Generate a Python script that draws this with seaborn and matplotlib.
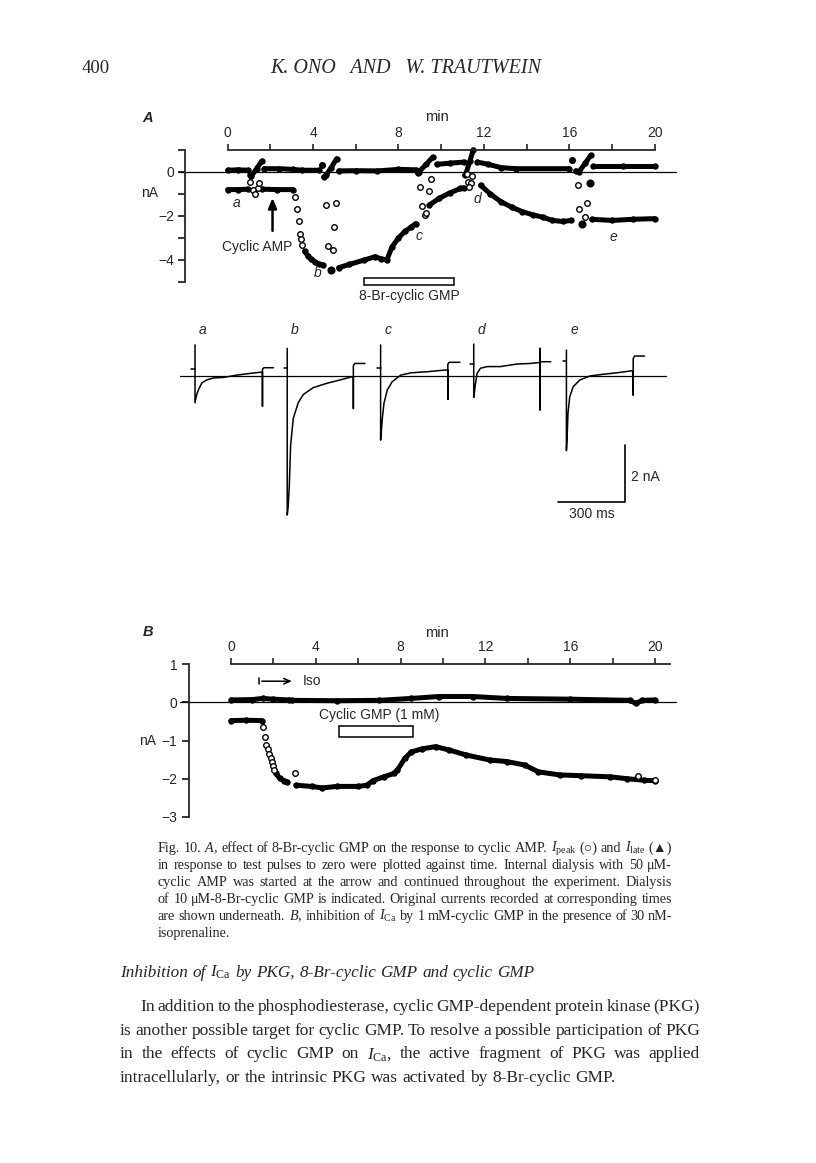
import numpy as np
import pandas as pd
import matplotlib
matplotlib.use("Agg")
import matplotlib.pyplot as plt
from matplotlib.patches import Rectangle
import seaborn as sns

# Panel A: I_late (filled runs), I_peak (filled runs + open circles), time in min, current in nA
a_late_runs = [
    ([0.0, 0.5, 0.95], [0.08, 0.1, 0.08]),
    ([1.05, 1.1, 1.35, 1.6], [-0.15, -0.2, 0.15, 0.5]),
    ([1.7, 2.4, 3.05, 3.5, 4.3], [0.15, 0.15, 0.12, 0.08, 0.08]),
    ([4.5, 4.6, 4.85, 5.1], [-0.22, -0.15, 0.2, 0.6]),
    ([5.2, 6.0, 7.0, 8.0, 8.8], [0.05, 0.06, 0.05, 0.12, 0.1]),
    ([8.9, 8.95, 9.3, 9.6], [-0.05, 0.0, 0.35, 0.67]),
    ([9.8, 10.4, 11.05], [0.35, 0.4, 0.45]),
    ([11.1, 11.15, 11.35, 11.5], [-0.15, -0.1, 0.5, 1.0]),
    ([11.7, 12.2, 12.8, 13.5, 16.0], [0.45, 0.35, 0.2, 0.15, 0.15]),
    ([16.3, 16.45, 16.75, 17.0], [0.05, 0.0, 0.4, 0.75]),
    ([17.1, 18.5, 20.0], [0.25, 0.25, 0.25]),
]
a_late_dots_t = [4.4, 16.15]
a_late_dots_i = [0.3, 0.55]

a_peak_runs = [
    ([0.0, 0.5, 0.95], [-0.8, -0.8, -0.78]),
    ([1.6, 2.3, 3.05], [-0.78, -0.8, -0.8]),
    ([3.6, 3.75, 3.9, 4.1, 4.3, 4.45], [-3.6, -3.8, -3.95, -4.1, -4.2, -4.22]),
    ([5.2, 5.7, 6.4, 6.9, 7.2, 7.45, 7.7, 8.0, 8.3, 8.6, 8.8],
     [-4.35, -4.2, -4.0, -3.85, -3.95, -4.0, -3.4, -3.0, -2.7, -2.5, -2.35]),
    ([9.45, 9.9, 10.4, 10.9, 11.05], [-1.5, -1.2, -0.95, -0.75, -0.72]),
    ([11.85, 12.3, 12.8, 13.3, 13.8, 14.3, 14.75, 15.2, 15.7, 16.1],
     [-0.6, -1.0, -1.35, -1.6, -1.8, -1.95, -2.05, -2.2, -2.25, -2.2]),
    ([17.05, 18.0, 19.0, 20.0], [-2.15, -2.2, -2.15, -2.12]),
]
a_peak_dots_t = [4.84, 16.6, 16.95]
a_peak_dots_i = [-4.45, -2.38, -0.5]
a_peak_open_t = [1.05, 1.18, 1.29, 1.4, 1.45,
                 3.15, 3.26, 3.32, 3.4, 3.45, 3.5,
                 4.6, 4.7, 4.95, 5.0, 5.05,
                 9.03, 9.1, 9.24, 9.3, 9.43, 9.5,
                 11.2, 11.28, 11.38, 11.45, 11.32,
                 16.4, 16.45, 16.75, 16.85]
a_peak_open_i = [-0.45, -0.8, -1.0, -0.75, -0.5,
                 -1.15, -1.7, -2.25, -2.8, -3.05, -3.3,
                 -1.5, -3.35, -3.55, -2.5, -1.4,
                 -0.67, -1.55, -1.95, -1.87, -0.85, -0.3,
                 -0.1, -0.45, -0.5, -0.2, -0.7,
                 -0.6, -1.7, -2.05, -1.4]
a_labels = ["a", "b", "c", "d", "e"]
a_label_t = [0.4, 4.2, 8.95, 11.7, 18.05]
a_label_i = [-1.42, -4.57, -2.9, -1.25, -2.95]

# Original current records a-e (time in ms from pulse onset, current in nA)
traces = {
    "a": ([0, 0, 7, 15, 30, 52, 82, 127, 187, 246, 291, 302, 302, 302, 308, 351],
          [1.08, -0.95, -0.68, -0.5, -0.26, -0.15, -0.08, -0.06, 0.02, 0.08, 0.12, 0.12, -1.07, 0.22, 0.28, 0.28]),
    "b": ([0, 0, 4, 9, 15, 27, 49, 72, 116, 176, 236, 288, 296, 296, 296, 302, 348],
          [0.96, -4.89, -4.6, -3.9, -2.45, -1.5, -0.95, -0.66, -0.42, -0.27, -0.15, -0.04, -0.03, -1.15, 0.35, 0.43, 0.43]),
    "c": ([0, 0, 3, 7, 15, 30, 52, 90, 135, 209, 291, 301, 301, 301, 307, 355],
          [1.08, -2.26, -2.0, -1.56, -0.97, -0.5, -0.21, 0.02, 0.1, 0.14, 0.2, 0.2, -0.83, 0.4, 0.47, 0.47]),
    "d": ([0, 0, 3, 7, 15, 30, 60, 119, 194, 254, 291, 296, 296, 296, 296, 302, 345],
          [1.11, -0.76, -0.6, -0.33, 0.08, 0.26, 0.32, 0.32, 0.41, 0.43, 0.46, 0.46, -1.2, 0.96, 0.49, 0.49, 0.49]),
    "e": ([0, 0, 3, 7, 15, 30, 60, 105, 164, 224, 291, 299, 299, 299, 305, 350],
          [0.9, -2.63, -2.2, -1.32, -0.74, -0.39, -0.15, -0.01, 0.05, 0.1, 0.17, 0.17, -0.68, 0.6, 0.69, 0.69]),
}
holding = {"a": 0.22, "b": 0.28, "c": 0.28, "d": 0.4, "e": 0.53}

# Panel B
b_late_runs = [
    ([0.0, 1.0, 1.5, 2.0, 2.75], [0.06, 0.07, 0.1, 0.08, 0.06]),
    ([2.9, 5.0, 7.0, 8.5, 9.8, 11.4, 13.0, 16.0, 18.8, 19.1, 19.4, 20.0],
     [0.05, 0.04, 0.05, 0.1, 0.15, 0.15, 0.1, 0.08, 0.05, -0.03, 0.05, 0.06]),
]
b_peak_runs = [
    ([0.0, 0.7, 1.45], [-0.48, -0.47, -0.48]),
    ([2.1, 2.3, 2.5, 2.65], [-1.85, -1.99, -2.05, -2.08]),
    ([3.07, 3.8, 4.3, 5.0, 6.0, 6.4, 6.7, 7.2, 7.7, 7.85, 8.2, 8.5, 9.0, 9.65, 10.3,
      11.1, 12.2, 13.0, 13.85, 14.5, 15.5, 16.5, 17.9, 18.7, 19.5, 20.0],
     [-2.17, -2.2, -2.24, -2.2, -2.2, -2.17, -2.05, -1.95, -1.86, -1.77, -1.47, -1.3, -1.22, -1.16, -1.25,
      -1.38, -1.51, -1.55, -1.64, -1.82, -1.9, -1.92, -1.95, -2.0, -2.04, -2.05]),
]
b_peak_open_t = [1.5, 1.59, 1.67, 1.75, 1.8, 1.87, 1.93, 2.0, 2.05, 3.0, 19.2, 20.0]
b_peak_open_i = [-0.66, -0.9, -1.12, -1.22, -1.34, -1.45, -1.55, -1.67, -1.78, -1.84, -1.92, -2.04]

W, H = 816, 1163
sns.set_style("ticks")
plt.rcParams['font.family'] = ['Liberation Sans', 'DejaVu Sans']
plt.rcParams['mathtext.fontset'] = 'custom'
plt.rcParams['mathtext.rm'] = 'Liberation Serif'
plt.rcParams['mathtext.it'] = 'Liberation Serif:italic'
plt.rcParams['axes.linewidth'] = 1.3
SERIF = ['Liberation Serif', 'DejaVu Sans']

fig = plt.figure(figsize=(W / 100, H / 100), dpi=100)
fig.patch.set_facecolor('white')


def px(x, y):
    return x / W, 1 - y / H


def add_ax(l, t, r, b):
    return fig.add_axes([l / W, 1 - b / H, (r - l) / W, (b - t) / H])


def run(ax, t, i, lw=3.6, ms=4.6):
    sns.lineplot(x=np.array(t), y=np.array(i), ax=ax, color='black', lw=lw, sort=False,
                 estimator=None, marker='o', markersize=ms, markeredgewidth=0,
                 solid_capstyle='round', clip_on=False, legend=False)


def dots(ax, t, i, s=26):
    sns.scatterplot(x=t, y=i, ax=ax, color='black', s=s, linewidth=0, clip_on=False, legend=False)


def circles(ax, t, i):
    sns.scatterplot(x=t, y=i, ax=ax, color='white', edgecolor='black', s=16, linewidth=1.0,
                    clip_on=False, legend=False, zorder=4)


def style_axis(ax, top_right):
    for s in ['right', 'bottom']:
        ax.spines[s].set_visible(False)
    ax.spines['top'].set_bounds(0, top_right)
    ax.xaxis.set_ticks_position('top')
    ax.set_xticks(range(0, 21, 2))
    ax.set_xticklabels([str(v) if v % 4 == 0 else '' for v in range(0, 21, 2)])
    ax.tick_params(axis='x', direction='out', length=4, width=1.2, pad=3, labelsize=10)
    ax.tick_params(axis='y', direction='out', length=5, width=1.3, pad=3, labelsize=10)
    ax.set_xlabel('')
    ax.set_ylabel('')
    ax.set_facecolor('none')


# ---------- Panel A ----------
axA = add_ax(185, 150, 676, 282)
axA.set_xlim(-2, 21)
axA.set_ylim(-5, 1)
axA.plot([-2.3, 21.0], [0, 0], color='black', lw=0.9, clip_on=False)
for t, i in a_late_runs:
    run(axA, t, i)
for t, i in a_peak_runs:
    run(axA, t, i)
dots(axA, a_late_dots_t, a_late_dots_i)
dots(axA, a_peak_dots_t, a_peak_dots_i, s=34)
circles(axA, a_peak_open_t, a_peak_open_i)
style_axis(axA, 20)
axA.set_yticks(range(-5, 2))
axA.set_yticklabels(['', '\u22124', '', '\u22122', '', '0', ''])
for lab, t, i in zip(a_labels, a_label_t, a_label_i):
    axA.text(t, i, lab, style='italic', fontsize=10, ha='center', va='center')
axA.text(1.4, -3.4, 'Cyclic AMP', fontsize=10, ha='center', va='center')
axA.annotate('', xy=(2.1, -1.05), xytext=(2.1, -2.8),
             arrowprops=dict(arrowstyle='-|>,head_width=0.25,head_length=0.6', color='black', lw=1.8))
axA.add_patch(Rectangle((6.4, -5.12), 4.2, 0.32, facecolor='white', edgecolor='black', lw=1.1, clip_on=False))
axA.text(8.5, -5.62, '8-Br-cyclic GMP', fontsize=10, ha='center', va='center')
fig.text(*px(148, 118), 'A', fontsize=10.5, style='italic', weight='bold', ha='center', va='center')
fig.text(*px(437, 117), 'min', fontsize=10.5, ha='center', va='center')
fig.text(*px(150, 193), 'nA', fontsize=10, ha='center', va='center')

# ---------- Original currents ----------
axT = add_ax(170, 320, 680, 520)
ms_per_px = 300 / 67.0
axT.set_xlim(0, 510 * ms_per_px)
axT.set_ylim(-144.3 / 28.5, 55.7 / 28.5)
axT.axis('off')
onsets = {"a": 112, "b": 525, "c": 943, "d": 1360, "e": 1775}
axT.plot([45, 2220], [0, 0], color='black', lw=0.9)
for key, (t, i) in traces.items():
    t0 = onsets[key]
    sns.lineplot(x=np.array(t) + t0, y=np.array(i), ax=axT, color='black', lw=1.1, sort=False,
                 estimator=None, legend=False)
    axT.plot([t0 - 16, t0], [holding[key], holding[key]], color='black', lw=1.1)
    axT.text(t0 + 35, 1.6, key, style='italic', fontsize=10, ha='center', va='center')
axT.plot([1737, 2037, 2037], [-4.43, -4.43, -2.43], color='black', lw=1.2)
axT.text(2062, -3.55, '2 nA', fontsize=10, ha='left', va='center')
axT.text(1887, -4.6, '300 ms', fontsize=10, ha='center', va='top')
axT.set_xlabel('')
axT.set_ylabel('')

# ---------- Panel B ----------
axB = add_ax(188.6, 664, 676.2, 817)
axB.set_xlim(-2, 21)
axB.set_ylim(-3, 1)
axB.plot([-2.4, 21.0], [0, 0], color='black', lw=0.9, clip_on=False)
for t, i in b_late_runs:
    run(axB, t, i)
for t, i in b_peak_runs:
    run(axB, t, i)
circles(axB, b_peak_open_t, b_peak_open_i)
style_axis(axB, 20.7)
axB.set_yticks(range(-3, 2))
axB.set_yticklabels(['\u22123', '\u22122', '\u22121', '0', '1'])
axB.plot([1.32, 1.32], [0.47, 0.63], color='black', lw=1.1)
axB.annotate('', xy=(3.0, 0.55), xytext=(1.32, 0.55),
             arrowprops=dict(arrowstyle='->,head_width=0.2,head_length=0.45', color='black', lw=1.1))
axB.text(3.4, 0.55, 'Iso', fontsize=10, ha='left', va='center')
axB.text(7.0, -0.33, 'Cyclic GMP (1 mM)', fontsize=10, ha='center', va='center')
axB.add_patch(Rectangle((5.1, -0.92), 3.5, 0.3, facecolor='white', edgecolor='black', lw=1.1))
fig.text(*px(148, 632), 'B', fontsize=10.5, style='italic', weight='bold', ha='center', va='center')
fig.text(*px(437, 633), 'min', fontsize=10.5, ha='center', va='center')
fig.text(*px(148, 741), 'nA', fontsize=10, ha='center', va='center')

# ---------- Page text ----------
renderer = fig.canvas.get_renderer()


def put_line(line, x0, y, size, x1=None, style='normal'):
    words = line.split(' ')
    objs = [fig.text(0, 0, w, fontsize=size, style=style, family=SERIF, ha='left', va='baseline')
            for w in words]
    widths = [o.get_window_extent(renderer).width for o in objs]
    if x1 is None or len(words) < 2:
        gap = size * 0.26 * 100 / 72
    else:
        gap = (x1 - x0 - sum(widths)) / (len(words) - 1)
    x = x0
    for o, w in zip(objs, widths):
        o.set_position(px(x, y))
        x += w + gap


fig.text(*px(82, 73), '400', fontsize=13.5, family=SERIF, ha='left', va='baseline')
fig.text(*px(406, 73), 'K. ONO   AND   W. TRAUTWEIN', fontsize=14.5, family=SERIF, style='italic',
         ha='center', va='baseline')

IPK = "$I_\\mathrm{peak}$"
ILT = "$I_\\mathrm{late}$"
ICA = "$I_\\mathrm{Ca}$"
caption = [
    "Fig. 10. $A$, effect of 8-Br-cyclic GMP on the response to cyclic AMP. " + IPK + " (\u25cb) and " + ILT + " (\u25b2)",
    "in response to test pulses to zero were plotted against time. Internal dialysis with 50 \u03bcM-",
    "cyclic AMP was started at the arrow and continued throughout the experiment. Dialysis",
    "of 10 \u03bcM-8-Br-cyclic GMP is indicated. Original currents recorded at corresponding times",
    "are shown underneath. $B$, inhibition of " + ICA + " by 1 mM-cyclic GMP in the presence of 30 nM-",
]
for k, line in enumerate(caption):
    put_line(line, 158, 852 + 17 * k, 10.2, x1=672)
put_line("isoprenaline.", 158, 852 + 17 * 5, 10.2)

put_line("Inhibition of " + ICA + " by PKG, 8-Br-cyclic GMP and cyclic GMP", 120, 977, 12.3, style='italic')
body = [
    ("In addition to the phosphodiesterase, cyclic GMP-dependent protein kinase (PKG)", 140),
    ("is another possible target for cyclic GMP. To resolve a possible participation of PKG", 120),
    ("in the effects of cyclic GMP on " + ICA + ", the active fragment of PKG was applied", 120),
]
for k, (line, x0) in enumerate(body):
    put_line(line, x0, 1011 + 23.7 * k, 12.5, x1=700)
put_line("intracellularly, or the intrinsic PKG was activated by 8-Br-cyclic GMP.", 120, 1011 + 23.7 * 3, 12.5)

fig.savefig('out.png', dpi=100, facecolor='white')
